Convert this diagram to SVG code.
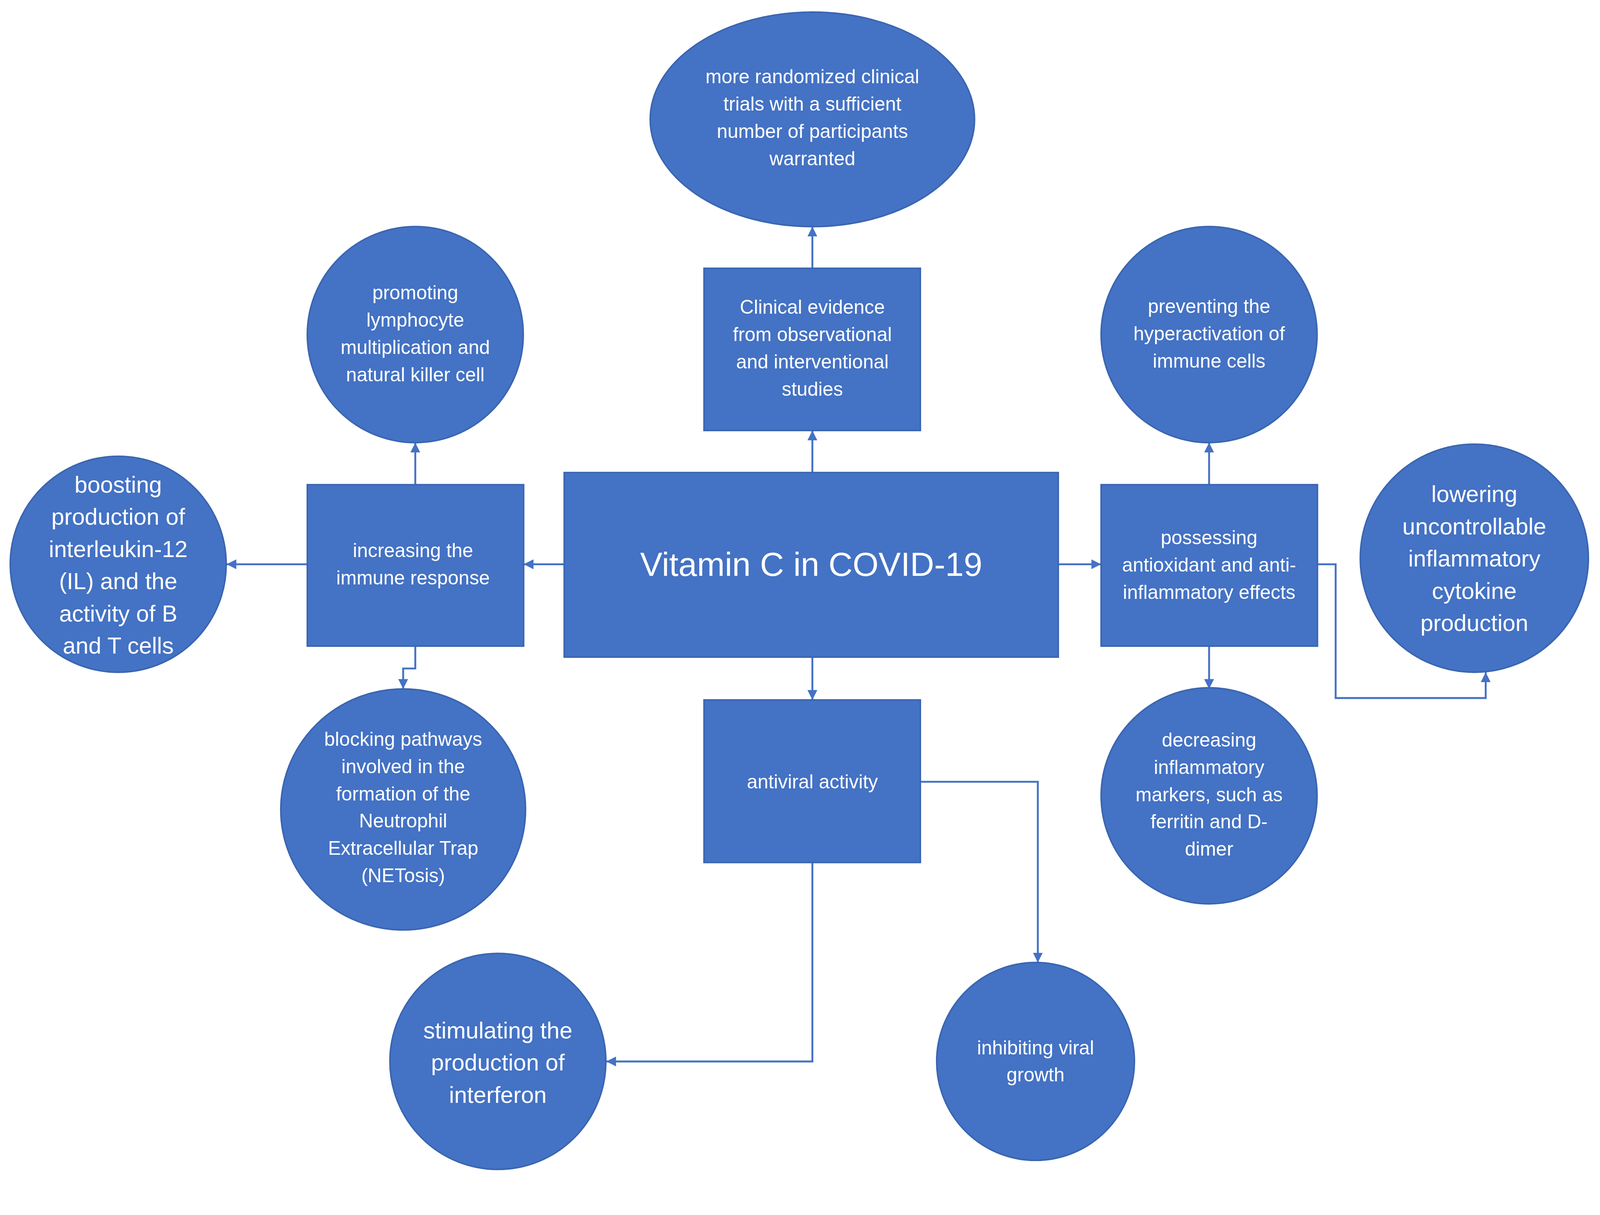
<svg xmlns="http://www.w3.org/2000/svg" width="4222" height="3110" viewBox="0 0 4222 3110">
<style>
.n{fill:#4472C4;stroke:#3A65B0;stroke-width:4}
.t{fill:#fff;font-family:"Liberation Sans",Arial,sans-serif;font-size:51px;text-anchor:middle}
.b{font-size:61px}
.c{fill:none;stroke:#4472C4;stroke-width:5}
</style>
<defs><marker id="m" viewBox="0 0 10 10" refX="10" refY="5" markerWidth="26" markerHeight="26" orient="auto" markerUnits="userSpaceOnUse"><path d="M0,0L10,5L0,10z" fill="#4472C4"/></marker></defs>
<rect width="4222" height="3110" fill="#fff"/>
<g transform="scale(0.97)">
<g id="connectors">
<path class="c" marker-end="url(#m)" d="M2144,1247V1136"/>
<path class="c" marker-end="url(#m)" d="M2144,708V598"/>
<path class="c" marker-end="url(#m)" d="M1489,1489H1382"/>
<path class="c" marker-end="url(#m)" d="M811,1489H598"/>
<path class="c" marker-end="url(#m)" d="M1096,1279V1168"/>
<path class="c" marker-end="url(#m)" d="M1096,1705V1764H1064V1818"/>
<path class="c" marker-end="url(#m)" d="M2793,1489H2906"/>
<path class="c" marker-end="url(#m)" d="M3191,1279V1168"/>
<path class="c" marker-end="url(#m)" d="M3191,1705V1818"/>
<path class="c" marker-end="url(#m)" d="M3477,1489H3525V1842H3921V1774"/>
<path class="c" marker-end="url(#m)" d="M2144,1734V1847"/>
<path class="c" marker-end="url(#m)" d="M2429,2063H2739V2540"/>
<path class="c" marker-end="url(#m)" d="M2144,2276V2801H1600"/>
</g>
<g id="center"><rect class="n" x="1489" y="1247" width="1304" height="487"/><text class="t" x="2141" y="1520" style="font-size:88px">Vitamin C in COVID-19</text></g>
<g id="clinical"><rect class="n" x="1858" y="708" width="571" height="428"/><text class="t"><tspan x="2144" y="828">Clinical evidence</tspan><tspan x="2144" y="900">from observational</tspan><tspan x="2144" y="972">and interventional</tspan><tspan x="2144" y="1044">studies</tspan></text></g>
<g id="trials"><ellipse class="n" cx="2144" cy="315" rx="428" ry="283"/><text class="t"><tspan x="2144" y="220">more randomized clinical</tspan><tspan x="2144" y="292">trials with a sufficient</tspan><tspan x="2144" y="364">number of participants</tspan><tspan x="2144" y="436">warranted</tspan></text></g>
<g id="immune"><rect class="n" x="811" y="1279" width="571" height="426"/><text class="t"><tspan x="1090" y="1470">increasing the</tspan><tspan x="1090" y="1542">immune response</tspan></text></g>
<g id="promoting"><circle class="n" cx="1096" cy="883" r="285"/><text class="t"><tspan x="1096" y="790">promoting</tspan><tspan x="1096" y="862">lymphocyte</tspan><tspan x="1096" y="934">multiplication and</tspan><tspan x="1096" y="1006">natural killer cell</tspan></text></g>
<g id="boosting"><circle class="n" cx="312" cy="1489" r="285"/><text class="t b"><tspan x="312" y="1300">boosting</tspan><tspan x="312" y="1385">production of</tspan><tspan x="312" y="1470">interleukin-12</tspan><tspan x="312" y="1555">(IL) and the</tspan><tspan x="312" y="1640">activity of B</tspan><tspan x="312" y="1725">and T cells</tspan></text></g>
<g id="blocking"><ellipse class="n" cx="1064" cy="2136" rx="323" ry="318"/><text class="t"><tspan x="1064" y="1968">blocking pathways</tspan><tspan x="1064" y="2040">involved in the</tspan><tspan x="1064" y="2112">formation of the</tspan><tspan x="1064" y="2184">Neutrophil</tspan><tspan x="1064" y="2256">Extracellular Trap</tspan><tspan x="1064" y="2328">(NETosis)</tspan></text></g>
<g id="antioxidant"><rect class="n" x="2906" y="1279" width="571" height="426"/><text class="t"><tspan x="3191" y="1436">possessing</tspan><tspan x="3191" y="1508">antioxidant and anti-</tspan><tspan x="3191" y="1580">inflammatory effects</tspan></text></g>
<g id="preventing"><circle class="n" cx="3191" cy="883" r="285"/><text class="t"><tspan x="3191" y="826">preventing the</tspan><tspan x="3191" y="898">hyperactivation of</tspan><tspan x="3191" y="970">immune cells</tspan></text></g>
<g id="lowering"><circle class="n" cx="3891" cy="1473" r="301"/><text class="t b"><tspan x="3891" y="1325">lowering</tspan><tspan x="3891" y="1410">uncontrollable</tspan><tspan x="3891" y="1495">inflammatory</tspan><tspan x="3891" y="1580">cytokine</tspan><tspan x="3891" y="1665">production</tspan></text></g>
<g id="decreasing"><circle class="n" cx="3191" cy="2100" r="285"/><text class="t"><tspan x="3191" y="1970">decreasing</tspan><tspan x="3191" y="2042">inflammatory</tspan><tspan x="3191" y="2114">markers, such as</tspan><tspan x="3191" y="2186">ferritin and D-</tspan><tspan x="3191" y="2258">dimer</tspan></text></g>
<g id="antiviral"><rect class="n" x="1858" y="1847" width="571" height="429"/><text class="t" x="2144" y="2080">antiviral activity</text></g>
<g id="stimulating"><circle class="n" cx="1314" cy="2801" r="285"/><text class="t b"><tspan x="1314" y="2740">stimulating the</tspan><tspan x="1314" y="2825">production of</tspan><tspan x="1314" y="2910">interferon</tspan></text></g>
<g id="inhibiting"><circle class="n" cx="2733" cy="2801" r="261"/><text class="t"><tspan x="2733" y="2782">inhibiting viral</tspan><tspan x="2733" y="2854">growth</tspan></text></g>
</g>
</svg>
